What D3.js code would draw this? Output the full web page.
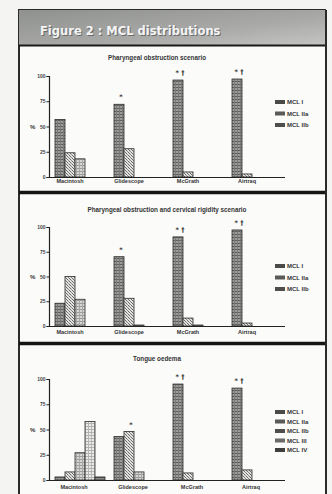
<!DOCTYPE html>
<html>
<head>
<meta charset="utf-8">
<script src="https://cdn.jsdelivr.net/npm/d3@7/dist/d3.min.js"></script>
<style>
  body { margin: 0; background: #f4f4f2; }
  svg { display: block; font-family: "Liberation Sans", Arial, sans-serif; }
</style>
</head>
<body>
<div id="chart"></div>
<script>
// categories + series
const categories = ['Macintosh', 'Glidescope', 'McGrath', 'Airtraq'];
const series3 = ['MCL I', 'MCL IIa', 'MCL IIb'];
const series5 = ['MCL I', 'MCL IIa', 'MCL IIb', 'MCL III', 'MCL IV'];
const yTicks = [0, 25, 50, 75, 100];

// % per category, one row per device
const pharyngeal = [[57, 24, 18], [72, 28, 0], [96, 5, 0], [97, 3, 0]];
const rigidity = [[23, 50, 27], [70, 28, 1], [90, 8, 1], [97, 3, 0]];
const tongue = [[3, 8, 27, 58, 3], [43, 48, 8, 0, 0], [95, 7, 0, 0, 0], [91, 10, 0, 0, 0]];

// significance marks above each device
const marks = ['', '*', '* \u2020', '* \u2020'];

const W = 332, H = 494;

const svg = d3.select('#chart').append('svg')
  .attr('width', W)
  .attr('height', H);

const defs = svg.append('defs');

const grad = defs.append('linearGradient').attr('id', 'hdr')
  .attr('x1', 0).attr('y1', 0).attr('x2', 1).attr('y2', 1);
grad.append('stop').attr('offset', 0).attr('stop-color', '#8f918f');
grad.append('stop').attr('offset', 0.6).attr('stop-color', '#a9aaa8');
grad.append('stop').attr('offset', 1).attr('stop-color', '#c4c5c3');

// bar fills, roughly like the scanned hatching
function pattern(id, base, draw) {
  const p = defs.append('pattern').attr('id', id)
    .attr('patternUnits', 'userSpaceOnUse')
    .attr('width', 3).attr('height', 3);
  p.append('rect').attr('width', 3).attr('height', 3).attr('fill', base);
  draw(p);
}
pattern('p0', '#9c9c9a', p => {
  p.append('rect').attr('width', 3).attr('height', 1).attr('fill', '#5e5e5c');
  p.append('rect').attr('x', 2).attr('width', 1).attr('height', 3).attr('fill', '#7a7a78');
});
pattern('p1', '#e2e2e0', p => {
  p.append('rect').attr('width', 1).attr('height', 1).attr('fill', '#6a6a68');
  p.append('rect').attr('x', 1).attr('y', 1).attr('width', 1).attr('height', 1).attr('fill', '#8a8a88');
  p.append('rect').attr('x', 2).attr('y', 2).attr('width', 1).attr('height', 1).attr('fill', '#6a6a68');
});
pattern('p2', '#d6d6d4', p => {
  p.append('rect').attr('width', 3).attr('height', 1).attr('fill', '#9a9a98');
  p.append('rect').attr('width', 1).attr('height', 3).attr('fill', '#a8a8a6');
});
pattern('p3', '#ebebea', p => {
  p.append('rect').attr('width', 3).attr('height', 1).attr('fill', '#b0b0ae');
  p.append('rect').attr('width', 1).attr('height', 3).attr('fill', '#b6b6b4');
});
pattern('p4', '#8a8a88', p => {
  p.append('rect').attr('width', 3).attr('height', 1).attr('fill', '#555553');
});
const fills = ['url(#p0)', 'url(#p1)', 'url(#p2)', 'url(#p3)', 'url(#p4)'];
const swatch = ['#4a4a48', '#5a5a58', '#4e4e4c', '#6a6a68', '#3e3e3c'];

// outer frame + header
svg.append('rect').attr('x', 19).attr('y', 10).attr('width', 307).attr('height', 490)
  .attr('fill', '#fbfbfa').attr('stroke', '#2a2a2a').attr('stroke-width', 2);
svg.append('rect').attr('x', 19).attr('y', 10).attr('width', 307).attr('height', 35)
  .attr('fill', 'url(#hdr)');
svg.append('line').attr('x1', 19).attr('x2', 326).attr('y1', 45.5).attr('y2', 45.5)
  .attr('stroke', '#1a1a1a').attr('stroke-width', 2);
svg.append('text').attr('x', 41).attr('y', 36)
  .attr('fill', '#6a6a6a').attr('font-size', 11.5).attr('font-weight', 'bold')
  .attr('font-family', '"DejaVu Sans", sans-serif')
  .text('Figure 2 :  MCL distributions');
svg.append('text').attr('x', 40).attr('y', 35)
  .attr('fill', '#f4f4f4').attr('font-size', 11.5).attr('font-weight', 'bold')
  .attr('font-family', '"DejaVu Sans", sans-serif')
  .text('Figure 2 :  MCL distributions');

// panel separators
[192.5, 343.5].forEach(y => {
  svg.append('line').attr('x1', 19).attr('x2', 326).attr('y1', y).attr('y2', y)
    .attr('stroke', '#151515').attr('stroke-width', 3.5);
});

const panels = [
  { title: 'Pharyngeal obstruction scenario', titleX: 157, titleY: 60,
    series: series3, values: pharyngeal, y0: 177, y100: 76, legendY: 104, legendStep: 11.5, labelY: 183 },
  { title: 'Pharyngeal obstruction and cervical rigidity scenario', titleX: 167, titleY: 212,
    series: series3, values: rigidity, y0: 326, y100: 227, legendY: 268, legendStep: 11.5, labelY: 334 },
  { title: 'Tongue oedema', titleX: 157, titleY: 361,
    series: series5, values: tongue, y0: 480, y100: 379, legendY: 414, legendStep: 9.5, labelY: 489 }
];

panels.forEach(drawPanel);

function drawPanel(cfg) {
  const g = svg.append('g');

  const x0 = d3.scaleBand().domain(categories).range([49, 285]);
  const x1 = d3.scaleBand().domain(cfg.series).range([6, 6 + 10 * cfg.series.length]);
  const y = d3.scaleLinear().domain([0, 100]).range([cfg.y0, cfg.y100]);

  g.append('text').attr('x', cfg.titleX).attr('y', cfg.titleY)
    .attr('text-anchor', 'middle').attr('font-size', 6.3).attr('font-weight', 'bold')
    .attr('fill', '#333').text(cfg.title);

  // bars
  const groups = g.selectAll('.grp')
    .data(categories.map((c, i) => ({ cat: c, vals: cfg.values[i], mark: marks[i] })))
    .enter().append('g')
    .attr('class', 'grp')
    .attr('transform', d => `translate(${x0(d.cat)},0)`);

  groups.selectAll('rect')
    .data(d => d.vals.map((v, j) => ({ s: cfg.series[j], v, j })))
    .enter().append('rect')
    .attr('x', d => x1(d.s))
    .attr('y', d => y(d.v))
    .attr('width', x1.bandwidth())
    .attr('height', d => cfg.y0 - y(d.v))
    .attr('fill', d => fills[d.j])
    .attr('stroke', '#2a2a2a')
    .attr('stroke-width', d => d.v > 0 ? 0.8 : 0);

  // significance marks above the tallest bar
  groups.append('text')
    .attr('x', d => {
      const j = d.vals.indexOf(d3.max(d.vals));
      return x1(cfg.series[j]) + x1.bandwidth() / 2 + 2;
    })
    .attr('y', d => y(d3.max(d.vals)) - 5)
    .attr('text-anchor', 'middle').attr('font-size', 6.5).attr('font-weight', 'bold')
    .attr('font-family', '"DejaVu Sans", sans-serif')
    .attr('fill', '#333')
    .text(d => d.mark);

  // axes
  const yAxis = d3.axisLeft(y).tickValues(yTicks).tickSize(2.5).tickPadding(1);
  const ya = g.append('g').attr('transform', 'translate(49,0)').call(yAxis);
  ya.select('.domain').attr('stroke', '#222').attr('stroke-width', 1.2);
  ya.selectAll('.tick line').attr('stroke', '#222');
  ya.selectAll('.tick text').attr('font-size', 5).attr('font-weight', 'bold').attr('fill', '#444');

  g.append('line').attr('x1', 49).attr('x2', 285)
    .attr('y1', cfg.y0 + 0.5).attr('y2', cfg.y0 + 0.5)
    .attr('stroke', '#222').attr('stroke-width', 1.2);

  g.append('text').attr('x', 30).attr('y', y(50) + 2)
    .attr('font-size', 6).attr('font-weight', 'bold').attr('fill', '#333').text('%');

  g.selectAll('.cat').data(categories).enter().append('text')
    .attr('x', d => x0(d) + 6 + 15 + (cfg.series.length > 3 ? 4 : 0))
    .attr('y', cfg.labelY)
    .attr('text-anchor', 'middle').attr('font-size', 5.5).attr('font-weight', 'bold')
    .attr('fill', '#333').text(d => d);

  // legend
  const lg = g.selectAll('.lg').data(cfg.series).enter().append('g')
    .attr('transform', (d, i) => `translate(275,${cfg.legendY + i * cfg.legendStep})`);
  lg.append('rect').attr('x', 0).attr('y', -4).attr('width', 10).attr('height', 4)
    .attr('fill', (d, i) => swatch[i]);
  lg.append('text').attr('x', 12).attr('y', 0)
    .attr('font-size', 6).attr('font-weight', 'bold').attr('fill', '#333').text(d => d);
}

// right frame edge drawn last so legend text is cut like the scan
svg.append('rect').attr('x', 326).attr('y', 0).attr('width', 6).attr('height', H).attr('fill', '#f4f4f2');
svg.append('line').attr('x1', 326).attr('x2', 326).attr('y1', 10).attr('y2', H)
  .attr('stroke', '#2a2a2a').attr('stroke-width', 2);
</script>
</body>
</html>
